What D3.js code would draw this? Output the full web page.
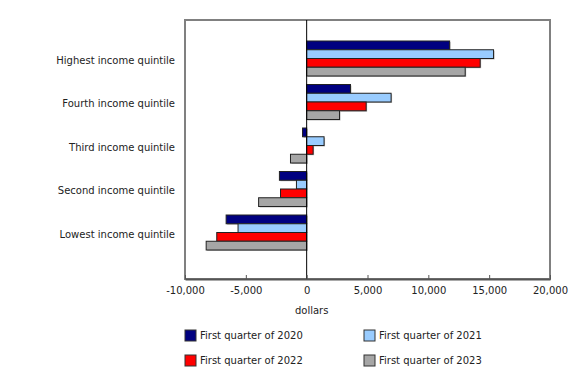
<!DOCTYPE html>
<html>
<head>
<meta charset="utf-8">
<script src="https://cdn.jsdelivr.net/npm/d3@7"></script>
<style>
  body { margin: 0; background: #fff; }
  text { font-family: "DejaVu Sans", Verdana, sans-serif; fill: #222; }
</style>
</head>
<body>
<div id="chart"></div>
<script>
// quintiles, top to bottom
var categories = ["Highest income quintile", "Fourth income quintile", "Third income quintile",
                  "Second income quintile", "Lowest income quintile"];
var seriesNames = ["First quarter of 2020", "First quarter of 2021", "First quarter of 2022", "First quarter of 2023"];
var q2020 = [11750, 3600, -340, -2240, -6620];
var q2021 = [15360, 6940, 1430, -840, -5640];
var q2022 = [14260, 4890, 530, -2150, -7390];
var q2023 = [13030, 2700, -1330, -3950, -8260];
var xTicks = [-10000, -5000, 0, 5000, 10000, 15000, 20000];
var colors = ["#000080", "#99ccff", "#ff0000", "#a6a6a6"];

var width = 580, height = 370;
var plotLeft = 185, plotRight = 550, plotTop = 20, plotBottom = 279;

var svg = d3.select("#chart").append("svg")
    .attr("width", width)
    .attr("height", height);

var x = d3.scaleLinear().domain([-10000, 20000]).range([plotLeft, plotRight]);
var y = d3.scaleBand().domain(categories).range([36.75, 254.25]);
var inner = d3.scaleBand().domain(seriesNames).range([4.25, 39.25]);

var allSeries = [q2020, q2021, q2022, q2023];
var rows = [];
categories.forEach(function (c, i) {
    seriesNames.forEach(function (s, j) {
        rows.push({cat: c, series: s, idx: j, value: allSeries[j][i]});
    });
});

// frame
svg.append("rect")
    .attr("x", plotLeft).attr("y", plotTop)
    .attr("width", plotRight - plotLeft).attr("height", plotBottom - plotTop)
    .attr("fill", "none")
    .attr("stroke", "#808080")
    .attr("stroke-width", 2);

// shadows
svg.append("g").selectAll("rect")
    .data(rows)
    .enter().append("rect")
    .attr("x", function (d) { return Math.min(x(0), x(d.value)) + 1; })
    .attr("y", function (d) { return y(d.cat) + inner(d.series) + 1; })
    .attr("width", function (d) { return Math.abs(x(d.value) - x(0)); })
    .attr("height", inner.bandwidth())
    .attr("fill", "#bbb");

// bars
svg.append("g").selectAll("rect")
    .data(rows)
    .enter().append("rect")
    .attr("x", function (d) { return Math.min(x(0), x(d.value)); })
    .attr("y", function (d) { return y(d.cat) + inner(d.series); })
    .attr("width", function (d) { return Math.abs(x(d.value) - x(0)); })
    .attr("height", inner.bandwidth())
    .attr("fill", function (d) { return colors[d.idx]; })
    .attr("stroke", "#222")
    .attr("stroke-width", 1);

// zero line
svg.append("line")
    .attr("x1", x(0)).attr("x2", x(0))
    .attr("y1", plotTop).attr("y2", plotBottom)
    .attr("stroke", "#000")
    .attr("stroke-width", 1);

// x axis
var fmt = d3.format(",");
var xAxis = svg.append("g")
    .attr("transform", "translate(0," + plotBottom + ")")
    .call(d3.axisBottom(x).tickValues(xTicks).tickSizeInner(-4).tickSizeOuter(0)
        .tickPadding(8).tickFormat(function (d) { return fmt(d).replace("\u2212", "-"); }));
xAxis.select(".domain").attr("stroke", "#555").attr("stroke-width", 2);
xAxis.selectAll(".tick line").attr("stroke", "#555");
xAxis.selectAll("text").attr("font-size", "10px").attr("fill", "#222")
    .attr("font-family", "DejaVu Sans, Verdana, sans-serif");

svg.append("text")
    .attr("x", x(0) + 5)
    .attr("y", 314)
    .attr("text-anchor", "middle")
    .attr("font-size", "10px")
    .text("dollars");

// category labels
svg.append("g").selectAll("text")
    .data(categories)
    .enter().append("text")
    .attr("x", 175)
    .attr("y", function (d) { return y(d) + y.bandwidth() / 2 + 2; })
    .attr("text-anchor", "end")
    .attr("dominant-baseline", "middle")
    .attr("font-size", "10px")
    .text(function (d) { return d; });

// legend
var legend = svg.append("g").selectAll("g")
    .data(seriesNames)
    .enter().append("g")
    .attr("transform", function (d, i) {
        return "translate(" + (i % 2 === 0 ? 185 : 364) + "," + (i < 2 ? 330 : 355) + ")";
    });
legend.append("rect")
    .attr("width", 11).attr("height", 11)
    .attr("fill", function (d, i) { return colors[i]; })
    .attr("stroke", "#333");
legend.append("text")
    .attr("x", 15)
    .attr("y", 6)
    .attr("dominant-baseline", "middle")
    .attr("font-size", "10px")
    .text(function (d) { return d; });
</script>
</body>
</html>
